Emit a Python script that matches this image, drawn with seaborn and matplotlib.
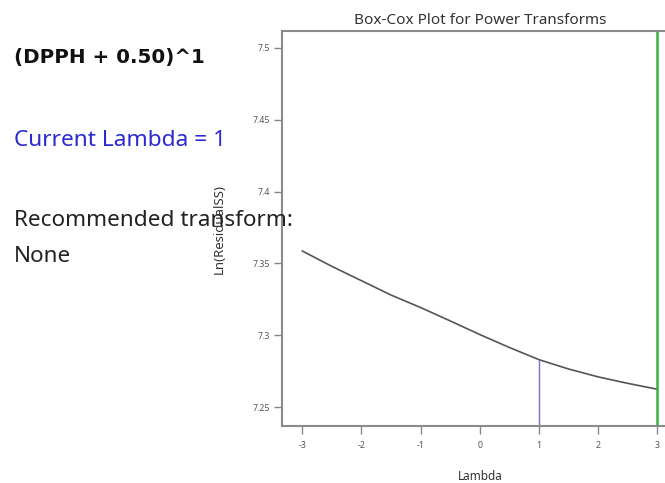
import numpy as np
import pandas as pd
import matplotlib
matplotlib.use("Agg")
import matplotlib.pyplot as plt
import seaborn as sns

# Data
lambdas = [-3.0, -2.5, -2.0, -1.5, -1.0, -0.5, 0.0, 0.5, 1.0, 1.5, 2.0, 2.5, 3.0]
ln_resid_ss = [7.3587, 7.348, 7.338, 7.328, 7.3193, 7.310, 7.3005, 7.2915, 7.2830,
               7.2765, 7.2710, 7.2665, 7.2624]
current_lambda = 1
current_value = 7.2830
best_lambda = 3
x_ticks = [-3, -2, -1, 0, 1, 2, 3]
y_ticks = [7.25, 7.3, 7.35, 7.4, 7.45, 7.5]
y_tick_labels = ["7.25", "7.3", "7.35", "7.4", "7.45", "7.5"]

sns.set_style("ticks")
plt.rcParams["font.family"] = ["Noto Sans", "DejaVu Sans"]

W, H = 665, 483
fig = plt.figure(figsize=(W / 100, H / 100), dpi=100)
ax = fig.add_axes([282 / W, 57 / H, (678 - 282) / W, (426 - 31) / H])

df = pd.DataFrame({"Lambda": lambdas, "LnSS": ln_resid_ss})
sns.lineplot(data=df, x="Lambda", y="LnSS", ax=ax, color="#555555", lw=1.2)

ax.set_xlim(-3.34, 3.35)
ax.set_ylim(7.2368, 7.5118)

ymin = ax.get_ylim()[0]
ax.plot([current_lambda, current_lambda], [ymin, current_value], color="#7070d0", lw=1.0)
ax.axvline(best_lambda, color="#3cb043", lw=1.8)

ax.set_xticks(x_ticks)
ax.set_xticklabels([str(t) for t in x_ticks])
ax.set_yticks(y_ticks)
ax.set_yticklabels(y_tick_labels)
ax.tick_params(axis="both", labelsize=6.3, labelcolor="#555555", color="#888888",
               length=6, width=1.0, direction="out")
ax.tick_params(axis="x", pad=5)
ax.tick_params(axis="y", pad=3)

for side in ["left", "bottom", "top"]:
    ax.spines[side].set_color("#8a8a8a")
    ax.spines[side].set_linewidth(1.5)
ax.spines["right"].set_visible(False)

ax.set_title("Box-Cox Plot for Power Transforms", fontsize=11, color="#333333", pad=5)
ax.set_xlabel("Lambda", fontsize=8.5, color="#333333", labelpad=14)
ax.set_ylabel("Ln(ResidualSS)", fontsize=9.5, color="#333333", labelpad=19)

fig.text(14 / W, 1 - 58 / H, "(DPPH + 0.50)^1", fontsize=14.3, fontweight="bold",
         family="DejaVu Sans", color="#111111", va="center", ha="left")
fig.text(14 / W, 1 - 140 / H, "Current Lambda = 1", fontsize=16.3,
         color="#2a2ad0", va="center", ha="left")
fig.text(14 / W, 1 - 220 / H, "Recommended transform:", fontsize=16.2,
         color="#222222", va="center", ha="left")
fig.text(14 / W, 1 - 257 / H, "None", fontsize=16.2,
         color="#222222", va="center", ha="left")

fig.savefig("out.png", dpi=100)
